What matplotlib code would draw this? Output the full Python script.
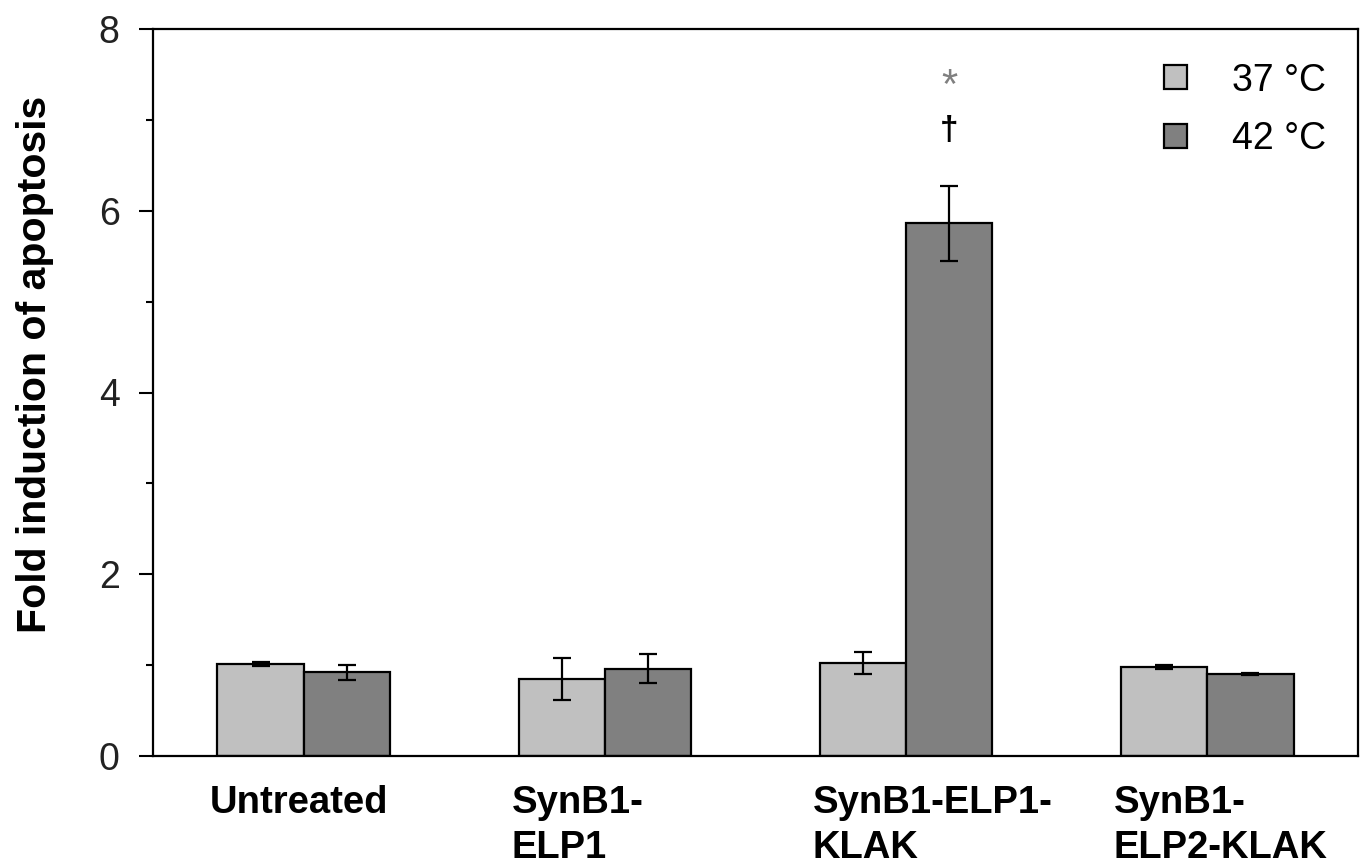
import matplotlib.pyplot as plt
import numpy as np

plt.rcParams['font.family'] = ['Liberation Sans', 'DejaVu Sans']

# datos
groups = ['Untreated', 'SynB1-\nELP1', 'SynB1-ELP1-\nKLAK', 'SynB1-\nELP2-KLAK']
temps = ['37 °C', '42 °C']
vals_37 = [1.01, 0.85, 1.02, 0.98]
err_37 = [0.02, 0.23, 0.12, 0.02]
vals_42 = [0.92, 0.96, 5.86, 0.90]
err_42 = [0.08, 0.16, 0.41, 0.01]
yticks = [0, 2, 4, 6, 8]

x = np.arange(len(groups))
w = 0.286

fig = plt.figure(figsize=(13.65, 8.67), dpi=100)
ax = fig.add_axes([153/1365, 1-756/867, (1358-153)/1365, (756-29)/867])

ebkw = dict(elinewidth=1.6, capthick=1.6, capsize=6.5, ecolor='black')
ax.bar(x - w/2, vals_37, w, yerr=err_37, color='#c0c0c0', edgecolor='black',
       linewidth=1.6, label=temps[0], error_kw=ebkw)
ax.bar(x + w/2, vals_42, w, yerr=err_42, color='#808080', edgecolor='black',
       linewidth=1.6, label=temps[1], error_kw=ebkw)

# marcas de significancia
ax.text(2 + w/2, 7.36, '*', ha='center', va='center', fontsize=30, color='#808080')
ax.text(2 + w/2, 6.88, '†', ha='center', va='center', fontsize=24, color='black',
        fontweight='bold')

ax.set_xlim(-0.5, 3.5)
ax.set_ylim(0, 8)
ax.set_yticks(yticks)
ax.set_yticklabels([str(t) for t in yticks], fontsize=27, color='#222222')
ax.set_yticks([1, 3, 5, 7], minor=True)
ax.tick_params(axis='y', which='major', direction='out', length=10, width=1.5, pad=14)
ax.tick_params(axis='y', which='minor', direction='out', length=5, width=1.5)

ax.set_xticks(x - 0.31)
ax.set_xticklabels(groups, fontsize=27.5, fontweight='bold', ha='left', linespacing=1.3)
ax.tick_params(axis='x', length=0, pad=21)

for s in ax.spines.values():
    s.set_linewidth(1.6)

ax.text(-0.098, 0.538, 'Fold induction of apoptosis', transform=ax.transAxes,
        rotation=90, ha='center', va='center', fontsize=29.5, fontweight='bold')

ax.legend(loc='upper right', frameon=False, fontsize=27, handlelength=0.6,
          handleheight=0.6, handletextpad=1.2, borderaxespad=0.3,
          bbox_to_anchor=(0.995, 0.99), labelspacing=0.6)

plt.savefig('out.png', dpi=100)
plt.close()
